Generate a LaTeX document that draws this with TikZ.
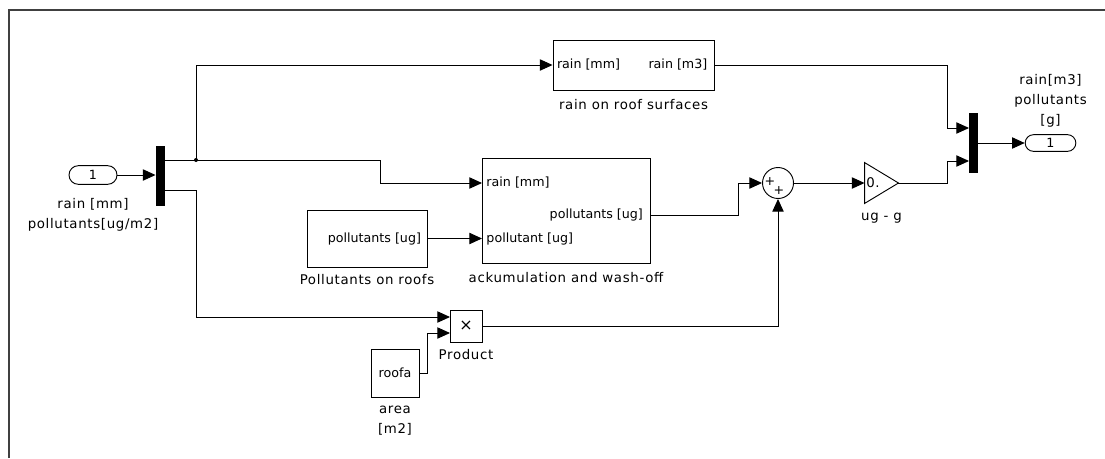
\documentclass[tikz,border=0pt]{standalone}
\usepackage{fontspec}
\usepackage{tikz}
\usetikzlibrary{positioning,arrows.meta,shapes.misc}
\newfontfamily\simfont{DejaVu Sans}
\newfontfamily\simlblfont[LetterSpace=5]{DejaVu Sans}
\newcommand\portfnt{\simfont\fontsize{9.5pt}{12pt}\selectfont}
\newcommand\lblfnt{\simlblfont\fontsize{10pt}{15pt}\selectfont}
\newcommand\plusfnt{\simfont\fontsize{9.5pt}{9.5pt}\selectfont}
\tikzset{
  blk/.style={draw,inner sep=0pt},
  port/.style={draw,rounded rectangle,inner sep=0pt,font=\portfnt},
  muxbar/.style={fill=black,inner sep=0pt,minimum width=6.75pt,minimum height=45pt},
  ptxt/.style={font=\portfnt,inner sep=0pt},
  lbl/.style={font=\lblfnt,align=center,inner sep=0pt},
}

\begin{document}
\begin{tikzpicture}[x=0.75pt,y=-0.75pt,line width=0.7pt,>={Triangle[length=9.5pt,width=8.5pt]}]
\useasboundingbox (0,0) rectangle (1105,458);
\draw[line width=0.8pt,black!75] (9,458) |- (1105,10);

\node (in1) [port,minimum width=36pt,minimum height=14pt] at (93,175) {1};
\node (mux1) [muxbar] at (160.5,175.5) {};
\node (roof) [blk,minimum width=120.75pt,minimum height=37.5pt] at (633.5,65) {};
\node (acc) [blk,minimum width=126pt,minimum height=78.75pt] at (566,210.5) {};
\node (pol) [blk,minimum width=90pt,minimum height=42.75pt] at (367,238.5) {};
\node (prod) [blk,minimum size=24pt,font=\simfont\fontsize{12pt}{12pt}\selectfont] at (466,326) {×};
\node (area) [blk,minimum size=36pt,font=\portfnt] at (395,373) {roofa};
\node (sum) [draw,circle,minimum size=23.25pt,inner sep=0pt] at (778,183) {};
\node (gain) [minimum width=24.75pt,minimum height=30pt,inner sep=0pt] at (881.5,183) {};
\draw (gain.north west) -- (gain.east) -- (gain.south west) -- cycle;
\node (mux2) [muxbar] at (973.5,143) {};
\node (out1) [port,minimum width=38pt,minimum height=12.5pt] at (1050.5,143) {1};

\coordinate (j1) at (196,160);
\coordinate (m1b) at (165,190);
\coordinate (accA) at (482,183);
\coordinate (accB) at (482,239);
\coordinate (accO) at (650,215);
\coordinate (prodA) at (450,317);
\coordinate (prodB) at (450,333);
\coordinate (m2a) at (969,128);
\coordinate (m2b) at (969,161);

\node (roofI) [ptxt,anchor=west] at ([xshift=3pt]roof.west) {rain [mm]};
\node (roofO) [ptxt,anchor=east] at ([xshift=-5pt]roof.east) {rain [m3]};
\node (accI) [ptxt,anchor=west] at ([xshift=3pt]accA) {rain [mm]};
\node (accP) [ptxt,anchor=west] at ([xshift=3pt]accB) {pollutant [ug]};
\node (accQ) [ptxt,anchor=east] at ([xshift=-5pt]accO) {pollutants [ug]};
\node (polO) [ptxt,anchor=east] at ([xshift=-4.5pt]pol.east) {pollutants [ug]};
\node (gainK) [ptxt,anchor=west,font=\lblfnt] at ([xshift=1pt]gain.west) {0.};
\node (sumP1) [inner sep=0pt,font=\plusfnt] at (770,182) {+};
\node (sumP2) [inner sep=0pt,font=\plusfnt] at (779,191) {+};

\node (in1L) [lbl,below=10pt of in1] {rain [mm]\\pollutants[ug/m2]};
\node (roofL) [lbl,below=6pt of roof] {rain on roof surfaces};
\node (polL) [lbl,below=5pt of pol] {Pollutants on roofs};
\node (accL) [lbl,below=6pt of acc] {ackumulation and wash-off};
\node (prodL) [lbl,below=5pt of prod] {Product};
\node (areaL) [lbl,below=6pt of area] {area\\{[m2]}};
\node (gainL) [lbl,below=7pt of gain] {ug - g};
\node (out1L) [lbl,above=5pt of out1] {rain[m3]\\pollutants\\{[g]}};

\draw[->] (in1.east) -- (in1.east -| mux1.west);
\draw (mux1.east |- j1) -- (j1);
\draw[->] (j1) |- (roof.west);
\draw[->] (j1) -- ++(184,0) |- (accA);
\draw[->] (m1b) -- (j1 |- m1b) |- (prodA);
\draw[->] (pol.east) -- (pol.east -| accB);
\draw[->] (area.east) -- ++(8,0) |- (prodB);
\draw[->] (prod.east) -| (sum.south);
\draw[->] (accO) -- ++(88,0) |- (sum.west);
\draw[->] (sum.east) -- (gain.west);
\draw[->] (gain.east) -- ++(49,0) |- (m2b);
\draw[->] (roof.east) -- ++(233,0) |- (m2a);
\draw[->] (mux2.east |- out1) -- (out1.west);
\fill (j1) circle (1.5pt);
\end{tikzpicture}
\end{document}
